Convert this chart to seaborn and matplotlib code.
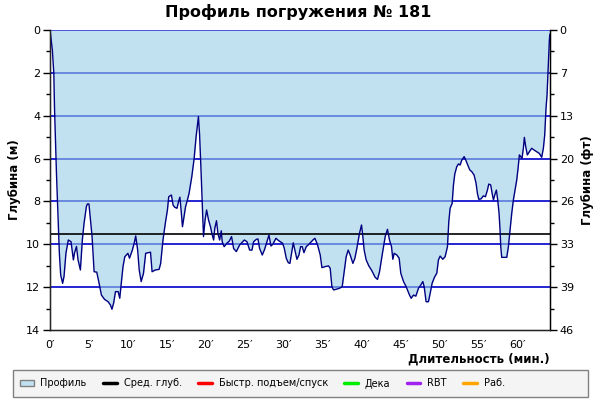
import numpy as np
import pandas as pd
import matplotlib
matplotlib.use("Agg")
import matplotlib.pyplot as plt
import seaborn as sns
from matplotlib.patches import Rectangle, Patch
from matplotlib.lines import Line2D

# ---- data ----
time_min = [0.0, 0.1, 0.3, 0.49, 0.58, 0.7, 0.83, 0.98, 1.1, 1.2, 1.37, 1.62, 1.8, 2.05, 2.35, 2.7,
            3.0, 3.15, 3.4, 3.6, 3.9, 4.15, 4.37, 4.67, 4.8, 5.0, 5.2, 5.4, 5.66, 6.0, 6.3, 6.6,
            7.0, 7.45, 7.75, 7.95, 8.18, 8.4, 8.75, 8.95, 9.1, 9.37, 9.6, 10.0, 10.2, 10.57, 10.85,
            11.0, 11.25, 11.45, 11.7, 12.0, 12.28, 12.5, 12.9, 13.1, 13.5, 14.0, 14.2, 14.5, 14.8,
            15.07, 15.24, 15.58, 15.8, 16.0, 16.3, 16.5, 16.67, 16.84, 17.0, 17.2, 17.4, 17.6,
            17.85, 18.2, 18.5, 18.75, 18.9, 19.05, 19.2, 19.38, 19.55, 19.7, 19.9, 20.1, 20.35,
            20.6, 20.77, 21.0, 21.15, 21.37, 21.55, 21.77, 21.98, 22.1, 22.35, 22.75, 23.0, 23.3,
            23.57, 23.91, 24.34, 24.94, 25.28, 25.62, 25.92, 26.13, 26.48, 26.69, 26.9, 27.24,
            27.54, 27.84, 28.1, 28.36, 28.61, 29.0, 29.34, 29.85, 30.07, 30.32, 30.58, 30.79,
            31.0, 31.22, 31.43, 31.69, 31.95, 32.16, 32.37, 32.59, 32.89, 33.14, 33.4, 33.74,
            34.0, 34.34, 34.68, 34.9, 35.32, 35.75, 35.96, 36.18, 36.39, 36.73, 37.16, 37.5,
            37.76, 38.01, 38.27, 38.53, 38.87, 39.13, 39.38, 39.72, 39.98, 40.15, 40.32, 40.58,
            40.92, 41.3, 41.73, 42.03, 42.29, 42.63, 43.02, 43.31, 43.57, 43.83, 44.0, 44.17,
            44.51, 44.81, 45.02, 45.37, 45.71, 46.14, 46.35, 46.65, 46.95, 47.29, 47.59, 47.85,
            48.02, 48.27, 48.57, 48.79, 49.04, 49.34, 49.64, 49.85, 50.07, 50.41, 50.71, 51.01,
            51.18, 51.35, 51.61, 51.78, 51.95, 52.2, 52.42, 52.63, 52.85, 53.15, 53.36, 53.62,
            53.87, 54.13, 54.43, 54.68, 54.85, 55.03, 55.32, 55.62, 55.88, 56.14, 56.31, 56.56,
            56.74, 56.91, 57.12, 57.29, 57.46, 57.63, 57.76, 57.85, 57.97, 58.27, 58.62, 58.83,
            59.04, 59.26, 59.47, 59.68, 59.9, 60.07, 60.24, 60.41, 60.58, 60.75, 60.88, 61.05,
            61.26, 61.52, 61.82, 62.12, 62.46, 62.8, 63.1, 63.32, 63.49, 63.66, 63.79, 63.91,
            64.0, 64.09, 64.15]
depth_m = [0.0, 0.3, 0.93, 2.02, 3.65, 5.2, 6.7, 8.24, 9.33, 10.4, 11.43, 11.82, 11.5, 10.4, 9.8, 9.88,
           10.73, 10.4, 10.1, 10.73, 11.2, 9.8, 9.02, 8.24, 8.12, 8.12, 8.87, 9.64, 11.28, 11.3, 11.82, 12.37,
           12.57, 12.68, 12.83, 13.03, 12.72, 12.21, 12.21, 12.52, 11.98, 11.04, 10.58, 10.42, 10.65, 10.27, 9.88,
           9.61, 10.27, 11.2, 11.74, 11.35, 10.42, 10.4, 10.37, 11.28, 11.2, 11.17, 10.9, 9.8, 9.02,
           8.4, 7.78, 7.7, 8.17, 8.27, 8.32, 8.0, 7.8, 8.47, 9.18, 8.71, 8.24, 7.98,
           7.62, 6.84, 5.99, 4.98, 4.5, 4.04, 4.9, 6.53, 8.24, 9.64, 8.87, 8.4, 8.87,
           9.18, 9.49, 9.8, 9.25, 8.9, 9.49, 9.8, 9.37, 9.88, 10.11, 9.93, 9.86, 9.64,
           10.2, 10.34, 10.03, 9.8, 9.88, 10.27, 10.27, 9.88, 9.77, 9.75, 10.19, 10.5,
           10.24, 9.88, 9.57, 10.08, 9.99, 9.72, 9.83, 9.95, 10.19, 10.65, 10.86, 10.89,
           10.42, 9.93, 10.27, 10.7, 10.5, 10.11, 10.11, 10.39, 10.11, 10.03, 9.93, 9.8,
           9.72, 10.03, 10.5, 11.09, 11.04, 11.01, 11.12, 11.98, 12.13, 12.1, 12.05, 11.98,
           11.28, 10.58, 10.27, 10.5, 10.89, 10.65, 10.19, 9.49, 9.1, 9.64, 10.27, 10.73,
           11.01, 11.23, 11.54, 11.64, 11.28, 10.5, 9.64, 9.3, 9.8, 10.11, 10.7, 10.42,
           10.5, 10.65, 11.35, 11.74, 11.98, 12.37, 12.52, 12.37, 12.42, 12.05, 11.9, 11.74,
           11.98, 12.68, 12.68, 12.29, 11.82, 11.54, 11.35, 10.73, 10.55, 10.7, 10.58, 10.11,
           8.95, 8.32, 8.09, 7.23, 6.72, 6.38, 6.25, 6.3, 6.07, 5.91, 6.07, 6.3,
           6.53, 6.61, 6.77, 7.15, 7.62, 7.9, 7.88, 7.74, 7.78, 7.47, 7.19, 7.23,
           7.62, 7.93, 7.65, 7.47, 7.93, 8.55, 9.33, 10.11, 10.61, 10.61, 10.61, 10.11,
           9.33, 8.55, 7.93, 7.47, 7.0, 6.46, 5.83, 5.91, 5.99, 5.52, 5.01, 5.44,
           5.83, 5.68, 5.52, 5.6, 5.68, 5.76, 5.94, 5.52, 4.9, 3.65, 3.03, 2.02,
           1.17, 0.47, 0.2]
avg_depth_m = 9.53
depth_ticks_m = [0, 2, 4, 6, 8, 10, 12, 14]
depth_ticks_ft = ["0", "7", "13", "20", "26", "33", "39", "46"]
time_ticks = [0, 5, 10, 15, 20, 25, 30, 35, 40, 45, 50, 55, 60]
grid_levels_m = [0, 2, 4, 6, 8, 10, 12]
legend_labels = ["Профиль", "Сред. глуб.", "Быстр. подъем/спуск", "Дека", "RBT", "Раб."]
legend_colors = ["#c1e1f1", "#000000", "#ff0000", "#00ee00", "#a020f0", "#ffa500"]

df = pd.DataFrame({"t": time_min, "d": depth_m})

sns.set_style("white")
plt.rcParams["font.family"] = ["DejaVu Sans"]
plt.rcParams["text.color"] = "black"
plt.rcParams["axes.labelcolor"] = "black"
plt.rcParams["xtick.color"] = "black"
plt.rcParams["ytick.color"] = "black"

fig = plt.figure(figsize=(6, 4), dpi=100)
ax = fig.add_axes([50 / 600, 1 - 330 / 400, 500 / 600, 300 / 400])
ax.set_facecolor("white")

xmax = 64.17
# grid lines (under the fill)
for g in grid_levels_m:
    ax.axhline(g, color="#0000cc", lw=1.2, zorder=1)

ax.fill_between(df["t"], 0, df["d"], color="#98cde8", alpha=0.6, lw=0, zorder=2)
sns.lineplot(data=df, x="t", y="d", ax=ax, color="#000080", lw=1.0, sort=False,
             estimator=None, zorder=4)
ax.axhline(avg_depth_m, color="black", lw=1.2, zorder=3)

ax.set_xlim(0, xmax)
ax.set_ylim(14, 0)

ax.set_xticks(time_ticks)
ax.set_xticklabels([f"{v}\u2032" for v in time_ticks], fontsize=8)
ax.set_xticks(np.arange(0, 65, 1), minor=True)
ax.set_yticks(depth_ticks_m)
ax.set_yticklabels([str(v) for v in depth_ticks_m], fontsize=8)
ax.set_yticks(np.arange(1, 14, 2), minor=True)
ax.tick_params(axis="both", which="major", direction="out", length=5, width=1, color="black", pad=2)
ax.tick_params(axis="both", which="minor", direction="out", length=3, width=1, color="black")

for s in ["left", "bottom", "right"]:
    ax.spines[s].set_visible(True)
    ax.spines[s].set_color("black")
    ax.spines[s].set_linewidth(1)
ax.spines["top"].set_visible(False)

ax.set_xlabel("Длительность (мин.)", fontsize=8.5, fontweight="bold", loc="right", labelpad=2)
ax.set_ylabel("Глубина (м)", fontsize=8.5, fontweight="bold", labelpad=4)

ax2 = ax.twinx()
ax2.set_ylim(14, 0)
ax2.set_yticks(depth_ticks_m)
ax2.set_yticklabels(depth_ticks_ft, fontsize=8)
ax2.set_yticks(np.arange(1, 14, 1), minor=True)
ax2.tick_params(axis="y", which="major", direction="out", length=5, width=1, color="black", pad=2)
ax2.tick_params(axis="y", which="minor", direction="out", length=3, width=1, color="black")
ax2.spines["top"].set_visible(False)
ax2.spines["right"].set_color("black")
ax2.set_ylabel("Глубина (фт)", fontsize=8.5, fontweight="bold", labelpad=5)

fig.text(0.497, 0.97, "Профиль погружения № 181", ha="center", va="center",
         fontsize=11.5, fontweight="bold", color="black")

# legend box
fig.patches.append(Rectangle((13 / 600, 3 / 400), 575 / 600, 27 / 400, transform=fig.transFigure,
                             facecolor="#f4f4f4", edgecolor="#808080", lw=1, zorder=0))
handles = [Patch(facecolor=legend_colors[0], edgecolor="#808080", lw=1)]
for c in legend_colors[1:]:
    handles.append(Line2D([0], [0], color=c, lw=2.5))
leg = fig.legend(handles, legend_labels, loc="center left", bbox_to_anchor=(16 / 600, 16.5 / 400),
                 ncol=6, frameon=False, fontsize=7, handlelength=1.4, handletextpad=0.7,
                 columnspacing=1.7, borderaxespad=0)

fig.savefig("out.png", dpi=100)
